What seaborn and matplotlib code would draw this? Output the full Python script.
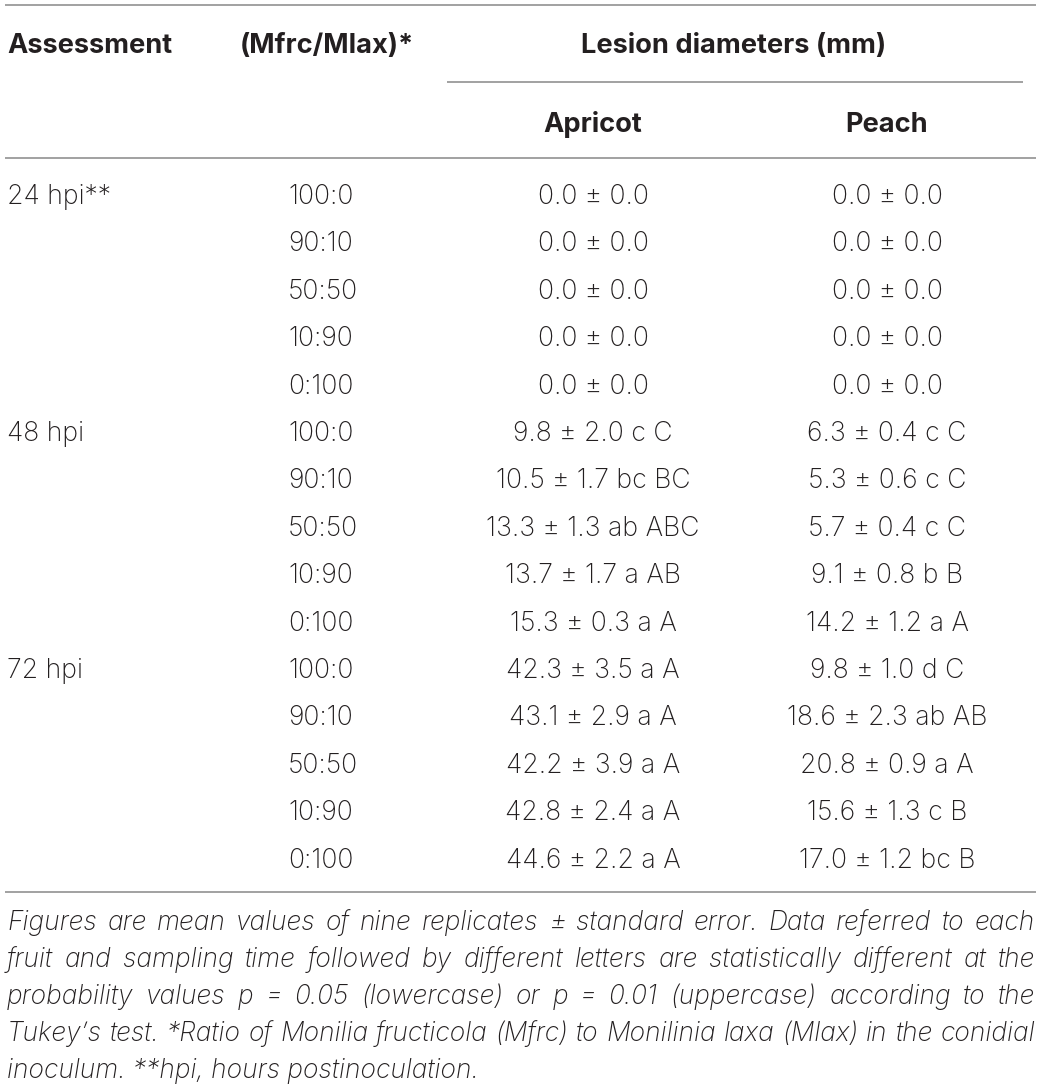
import seaborn as sns
import matplotlib.pyplot as plt

assessments = ["24 hpi**", "48 hpi", "72 hpi"]
ratios = ["100:0", "90:10", "50:50", "10:90", "0:100"]

apricot_mean = [0.0, 0.0, 0.0, 0.0, 0.0,
                9.8, 10.5, 13.3, 13.7, 15.3,
                42.3, 43.1, 42.2, 42.8, 44.6]
apricot_se = [0.0, 0.0, 0.0, 0.0, 0.0,
              2.0, 1.7, 1.3, 1.7, 0.3,
              3.5, 2.9, 3.9, 2.4, 2.2]
apricot_letters = ["", "", "", "", "",
                   "c C", "bc BC", "ab ABC", "a AB", "a A",
                   "a A", "a A", "a A", "a A", "a A"]

peach_mean = [0.0, 0.0, 0.0, 0.0, 0.0,
              6.3, 5.3, 5.7, 9.1, 14.2,
              9.8, 18.6, 20.8, 15.6, 17.0]
peach_se = [0.0, 0.0, 0.0, 0.0, 0.0,
            0.4, 0.6, 0.4, 0.8, 1.2,
            1.0, 2.3, 0.9, 1.3, 1.2]
peach_letters = ["", "", "", "", "",
                 "c C", "c C", "c C", "b B", "a A",
                 "d C", "ab AB", "a A", "c B", "bc B"]

footnote = [
    "Figures are mean values of nine replicates ± standard error. Data referred to each",
    "fruit and sampling time followed by different letters are statistically different at the",
    "probability values p = 0.05 (lowercase) or p = 0.01 (uppercase) according to the",
    "Tukey’s test. *Ratio of Monilia fructicola (Mfrc) to Monilinia laxa (Mlax) in the conidial",
    "inoculum. **hpi, hours postinoculation.",
]

sns.set_theme(style="white")
plt.rcParams['font.family'] = ['Inter', 'DejaVu Sans']

ink = "#231f20"
rule = "#9a9a9a"
fs = 19.2
hfs = 19.6

fig = plt.figure(figsize=(10.41, 10.90), dpi=100)
ax = fig.add_axes([0, 0, 1, 1])
ax.set_xlim(0, 1041)
ax.set_ylim(1090, 0)
ax.axis('off')


def cell(mean, se, letters):
    s = f"{mean:.1f} ± {se:.1f}"
    return f"{s} {letters}" if letters else s


# rules
ax.hlines([5, 158, 892], 5, 1036, color=rule, lw=1.3)
ax.hlines(82, 447, 1023, color=rule, lw=1.3)

# header
ax.text(7, 53, "Assessment", fontsize=hfs, fontweight='bold', color=ink, va='baseline')
ax.text(240, 53, "(Mfrc/Mlax)*", fontsize=hfs, fontweight='bold', color=ink, va='baseline')
ax.text(734, 53, "Lesion diameters (mm)", fontsize=hfs, fontweight='bold', color=ink,
        va='baseline', ha='center')
ax.text(593, 132, "Apricot", fontsize=hfs, fontweight='bold', color=ink, va='baseline', ha='center')
ax.text(887, 132, "Peach", fontsize=hfs, fontweight='bold', color=ink, va='baseline', ha='center')

# body rows
step = 47.4
for i in range(len(apricot_mean)):
    y = 204 + step * i
    if i % len(ratios) == 0:
        ax.text(7, y, assessments[i // len(ratios)], fontsize=fs, fontweight='light',
                color=ink, va='baseline')
    ax.text(288, y, ratios[i % len(ratios)], fontsize=fs, fontweight='light',
            color=ink, va='baseline')
    ax.text(593, y, cell(apricot_mean[i], apricot_se[i], apricot_letters[i]), fontsize=fs,
            fontweight='light', color=ink, va='baseline', ha='center')
    ax.text(887, y, cell(peach_mean[i], peach_se[i], peach_letters[i]), fontsize=fs,
            fontweight='light', color=ink, va='baseline', ha='center')

# footnote, justified like the journal layout
renderer = fig.canvas.get_renderer()
left, right = 7, 1035
fn_fs = 19.0
for k, line in enumerate(footnote):
    y = 930 + 37 * k
    if k == len(footnote) - 1:
        ax.text(left, y, line, fontsize=fn_fs, style='italic', fontweight='light',
                color=ink, va='baseline')
        continue
    words = line.split(" ")
    items = [ax.text(0, y, w, fontsize=fn_fs, style='italic', fontweight='light',
                     color=ink, va='baseline') for w in words]
    widths = [t.get_window_extent(renderer).width for t in items]
    gap = (right - left - sum(widths)) / (len(words) - 1)
    x = left
    for t, w in zip(items, widths):
        t.set_x(x)
        x += w + gap

fig.savefig("out.png", dpi=100)
